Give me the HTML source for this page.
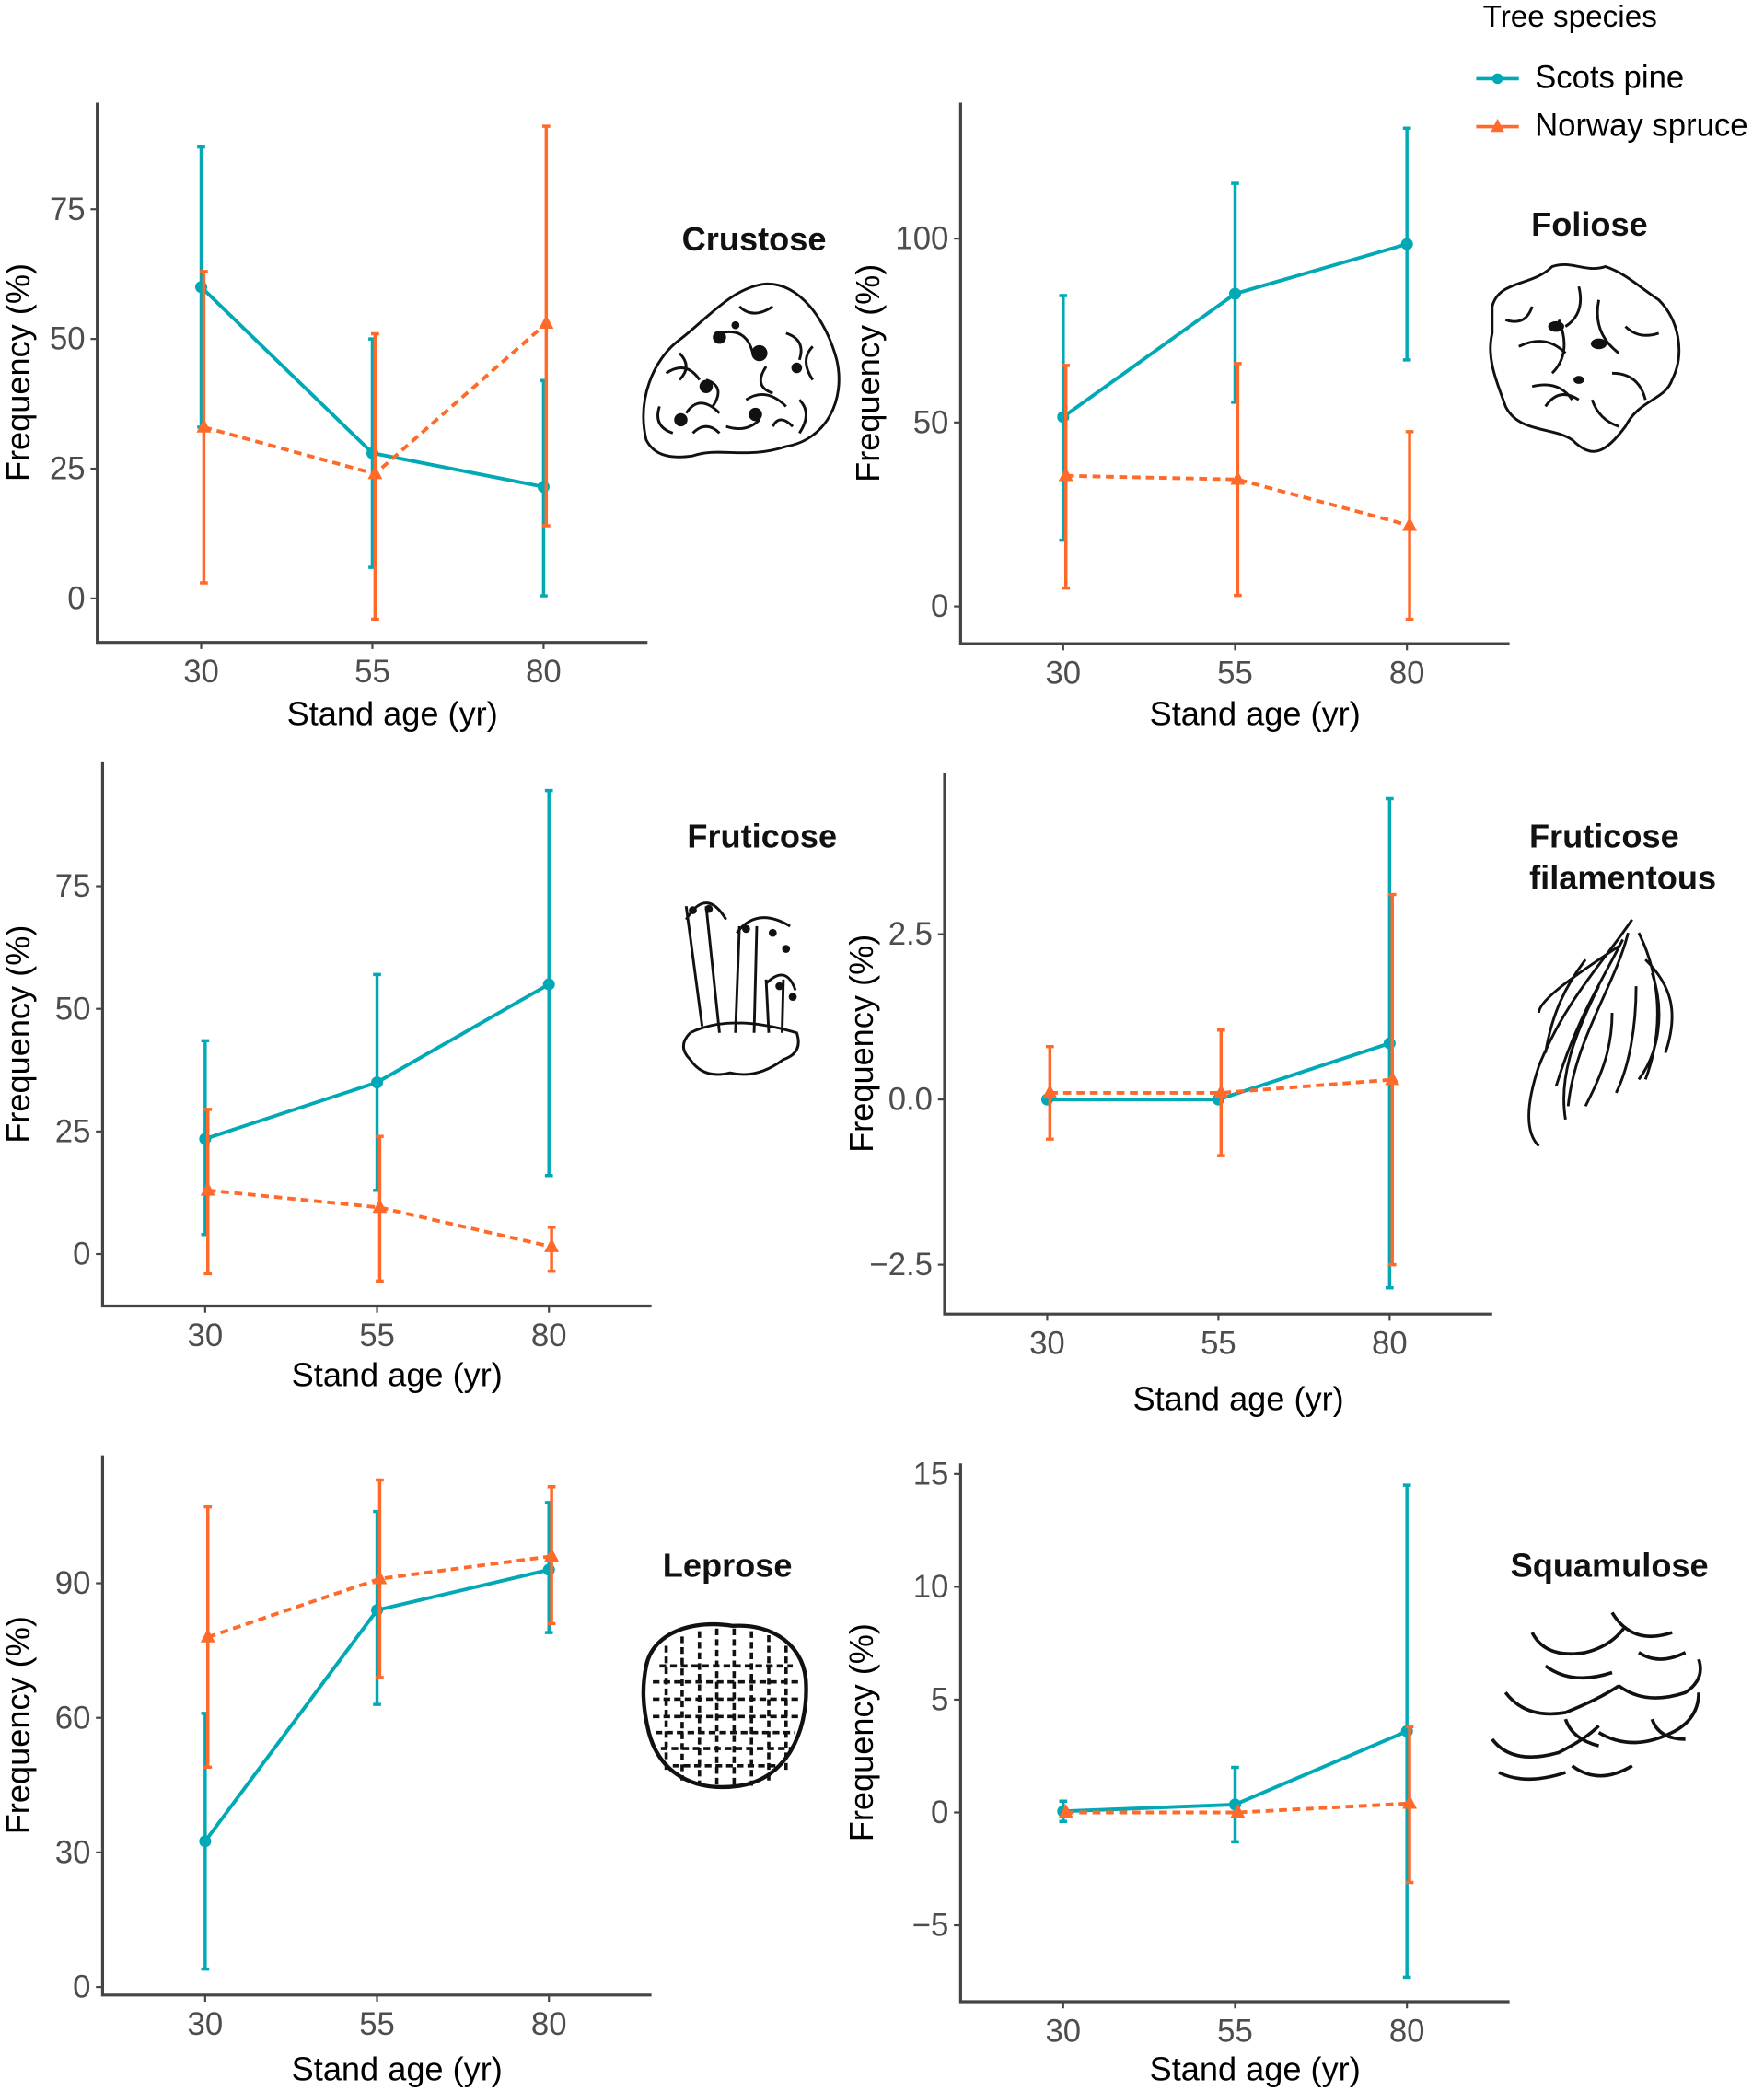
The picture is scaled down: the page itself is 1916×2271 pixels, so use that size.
<!DOCTYPE html>
<html><head><meta charset="utf-8"><style>
html,body{margin:0;padding:0;background:#fff;}
svg{display:block;font-family:"Liberation Sans",Arial,sans-serif;}
</style></head><body>
<svg id="fig" width="1916" height="2271" viewBox="0 0 1324 1569" preserveAspectRatio="none" xmlns="http://www.w3.org/2000/svg">
<g>
<text x="1113" y="20" font-size="23" fill="#000">Tree species</text>
<g>
<line x1="1108" y1="59" x2="1140" y2="59" stroke="#00A9B5" stroke-width="2.5"/><circle cx="1124" cy="59" r="4" fill="#00A9B5"/>
<text x="1152" y="66" font-size="24">Scots pine</text></g>
<g>
<line x1="1108" y1="95" x2="1140" y2="95" stroke="#FF6A2A" stroke-width="2.5"/><path d="M1119,99 L1124,89 L1129,99Z" fill="#FF6A2A"/>
<text x="1152" y="102" font-size="24">Norway spruce</text></g>
</g>
<g fill="none" stroke="#111" stroke-width="2">
<g><path d="M485,330 C478,300 490,270 510,255 C530,240 550,215 575,213 C600,212 620,240 628,270 C635,300 620,330 590,335 C560,345 540,335 520,342 C500,345 490,340 485,330Z"/>
<path d="M500,280 q15,-10 25,5 M540,250 q20,-5 25,15 M515,310 q10,-15 25,0 M560,300 q15,-10 30,5 M590,250 q15,5 10,20 M600,300 q10,10 0,25 M530,285 q15,5 5,20 M575,275 q-10,15 5,20 M495,305 q-5,15 10,20 M510,265 q10,10 0,20 M555,230 q10,10 25,0 M545,320 q15,5 25,-5 M610,260 q-10,10 0,25 M520,325 q10,-10 20,0 M580,320 q5,-10 15,0"/>
<g fill="#111" stroke="none"><circle cx="540" cy="253" r="5"/><circle cx="570" cy="265" r="6"/><circle cx="598" cy="276" r="4"/><circle cx="530" cy="290" r="5"/><circle cx="567" cy="311" r="5"/><circle cx="511" cy="315" r="5"/><circle cx="552" cy="244" r="3"/></g></g>
<g><path d="M1120,230 C1125,210 1150,215 1165,200 C1180,195 1190,205 1205,200 C1220,205 1230,215 1245,225 C1260,240 1265,265 1255,285 C1250,300 1230,300 1220,320 C1205,340 1195,345 1180,330 C1165,320 1140,325 1130,305 C1125,290 1115,270 1120,250Z"/>
<path d="M1140,260 q20,-10 35,5 M1170,240 q10,25 -5,40 M1200,225 q-5,25 15,40 M1150,290 q20,-5 30,10 M1210,280 q20,0 25,20 M1130,240 q15,5 20,-10 M1185,215 q5,20 -10,30 M1220,245 q10,10 25,5 M1160,305 q10,-15 25,-5 M1195,300 q5,15 20,20"/>
<g fill="#111" stroke="none"><ellipse cx="1168" cy="245" rx="6" ry="4"/><ellipse cx="1200" cy="258" rx="6" ry="4"/><ellipse cx="1185" cy="285" rx="4" ry="3"/></g></g>
<g><path d="M515,680 l12,90 M530,680 l10,95 M555,695 l-3,80 M568,695 l-2,80 M575,735 l2,40 M588,735 l-1,40 M515,690 q15,-25 30,0 M553,700 q15,-20 40,-5 M575,738 q15,-15 22,5 M518,775 q30,-15 80,0 q5,15 -10,20 q-20,15 -40,10 q-20,5 -30,-10 q-10,-10 0,-20"/>
<g fill="#111" stroke="none"><circle cx="520" cy="683" r="3"/><circle cx="532" cy="682" r="3"/><circle cx="560" cy="697" r="3"/><circle cx="580" cy="700" r="3"/><circle cx="590" cy="712" r="3"/><circle cx="585" cy="740" r="3"/><circle cx="595" cy="748" r="3"/></g></g>
<g><path d="M1225,690 c-20,30 -50,60 -70,110 c-10,30 -10,50 0,60 M1222,700 c-10,40 -40,80 -45,130 M1230,700 c15,30 20,70 5,110 M1215,710 c-30,20 -60,40 -60,50 M1235,720 c20,20 25,40 15,70 M1200,740 c-20,40 -30,70 -25,100 M1210,760 c0,30 -10,50 -20,70 M1218,705 c-15,30 -35,60 -50,110 M1240,730 c10,30 5,60 -10,80 M1190,720 c-15,20 -25,40 -30,70 M1228,740 c0,30 -5,60 -15,80"/></g>
<g stroke-width="3"><path d="M485,1250 C490,1225 520,1215 550,1220 C580,1218 605,1235 605,1265 C606,1300 590,1335 555,1340 C520,1345 495,1330 487,1300 C482,1280 482,1265 485,1250Z"/>
<path d="M495,1250 h100 M490,1262 h112 M490,1275 h112 M490,1288 h112 M492,1300 h105 M496,1312 h98 M505,1325 h80 M500,1235 v95 M512,1228 v108 M525,1224 v115 M538,1222 v118 M551,1222 v118 M564,1224 v116 M577,1227 v110 M590,1235 v95" stroke-width="2.5" stroke-dasharray="5,3"/></g>
<g stroke-width="2.5"><path d="M1150,1225 q10,20 40,15 q20,-5 30,-20 M1210,1210 q15,25 45,15 M1130,1270 q15,20 45,15 q25,-10 40,-20 M1215,1265 q20,15 50,5 q15,-10 10,-25 M1120,1305 q15,20 50,10 q20,-10 30,-20 M1200,1300 q25,15 55,0 q20,-10 20,-30 M1125,1330 q20,10 50,0 M1180,1325 q20,15 45,0 M1160,1250 q20,15 50,5 M1230,1240 q15,10 35,0 M1175,1290 q5,15 25,20 M1240,1290 q5,15 25,15"/></g>
</g>
<g id="panels"></g>
</svg>
<script>
// categories
const ages = [30, 55, 80];
// Crustose
const crustScots = [60, 28, 21.5];
const crustScotsLo = [33, 6, 0.5];
const crustScotsHi = [87, 50, 42];
const crustSpruce = [33, 24, 53];
const crustSpruceLo = [3, -4, 14];
const crustSpruceHi = [63, 51, 91];
const crustTicks = [0, 25, 50, 75];
// Foliose
const folScots = [51.5, 85, 98.5];
const folScotsLo = [18, 55.5, 67];
const folScotsHi = [84.5, 115, 130];
const folSpruce = [35.5, 34.5, 22];
const folSpruceLo = [5, 3, -3.5];
const folSpruceHi = [65.5, 66, 47.5];
const folTicks = [0, 50, 100];
// Fruticose
const fruScots = [23.5, 35, 55];
const fruScotsLo = [4, 13, 16];
const fruScotsHi = [43.5, 57, 94.5];
const fruSpruce = [13, 9.5, 1.5];
const fruSpruceLo = [-4, -5.5, -3.5];
const fruSpruceHi = [29.5, 24, 5.5];
const fruTicks = [0, 25, 50, 75];
// Fruticose filamentous
const filScots = [0, 0, 0.85];
const filScotsLo = [0, 0, -2.85];
const filScotsHi = [0, 0, 4.55];
const filSpruce = [0.1, 0.1, 0.3];
const filSpruceLo = [-0.6, -0.85, -2.5];
const filSpruceHi = [0.8, 1.05, 3.1];
const filTicks = [-2.5, 0, 2.5];
const filTickLabels = ["\u22122.5", "0.0", "2.5"];
// Leprose
const lepScots = [32.5, 84, 93];
const lepScotsLo = [4, 63, 79];
const lepScotsHi = [61, 106, 108];
const lepSpruce = [78, 91, 96];
const lepSpruceLo = [49, 69, 81];
const lepSpruceHi = [107, 113, 111.5];
const lepTicks = [0, 30, 60, 90];
// Squamulose
const squScots = [0.05, 0.35, 3.6];
const squScotsLo = [-0.4, -1.3, -7.3];
const squScotsHi = [0.5, 2.0, 14.5];
const squSpruce = [0, 0, 0.4];
const squSpruceLo = [0, 0, -3.1];
const squSpruceHi = [0, 0, 3.8];
const squTicks = [-5, 0, 5, 10, 15];
const squTickLabels = ["\u22125", "0", "5", "10", "15"];

const NS = "http://www.w3.org/2000/svg";
const TEAL = "#00A9B5", ORANGE = "#FF6A2A";
function mk(tag, attrs, parent) {
  const e = document.createElementNS(NS, tag);
  for (const k in attrs) e.setAttribute(k, attrs[k]);
  parent.appendChild(e); return e;
}
const panelsEl = document.getElementById('panels');
const layout = [
  {name:'crustose', title:['Crustose'], tx:566, ty:188, ax:73, ylx:22, top:77, bot:482, xr:486, v0:0, p0:449, v1:75, p1:157, x30:151, x80:408, xlab:544, ticks:crustTicks, s:[crustScots,crustScotsLo,crustScotsHi], o:[crustSpruce,crustSpruceLo,crustSpruceHi]},
  {name:'foliose', title:['Foliose'], tx:1193, ty:177, ax:721, ylx:660, top:77, bot:483, xr:1133, v0:0, p0:455, v1:100, p1:179, x30:798, x80:1056, xlab:544, ticks:folTicks, s:[folScots,folScotsLo,folScotsHi], o:[folSpruce,folSpruceLo,folSpruceHi]},
  {name:'fruticose', title:['Fruticose'], tx:572, ty:636, ax:77, ylx:22, top:572, bot:980, xr:489, v0:0, p0:941, v1:75, p1:665, x30:154, x80:412, xlab:1040, ticks:fruTicks, s:[fruScots,fruScotsLo,fruScotsHi], o:[fruSpruce,fruSpruceLo,fruSpruceHi]},
  {name:'fruticose-filamentous', title:['Fruticose','filamentous'], tx:1204, ty:636, tx2:1218, ax:709, ylx:655, top:580, bot:986, xr:1120, v0:0, p0:825, v1:2.5, p1:701, x30:786, x80:1043, xlab:1058, ticks:filTicks, labels:filTickLabels, s:[filScots,filScotsLo,filScotsHi], o:[filSpruce,filSpruceLo,filSpruceHi]},
  {name:'leprose', title:['Leprose'], tx:546, ty:1183, ax:77, ylx:22, top:1092, bot:1497, xr:489, v0:0, p0:1491, v1:90, p1:1188, x30:154, x80:412, xlab:1561, ticks:lepTicks, s:[lepScots,lepScotsLo,lepScotsHi], o:[lepSpruce,lepSpruceLo,lepSpruceHi]},
  {name:'squamulose', title:['Squamulose'], tx:1208, ty:1183, ax:721, ylx:655, top:1098, bot:1502, xr:1133, v0:0, p0:1360, v1:15, p1:1106, x30:798, x80:1056, xlab:1561, ticks:squTicks, labels:squTickLabels, s:[squScots,squScotsLo,squScotsHi], o:[squSpruce,squSpruceLo,squSpruceHi]}
];
layout.forEach(P => {
  const g = mk('g', {}, panelsEl);
  
  
  const yS = v => P.p0 + (v - P.v0) * (P.p1 - P.p0) / (P.v1 - P.v0);
  const xS = a => P.x30 + (a - 30) * (P.x80 - P.x30) / 50;
  const axes = mk('path', {d:`M${P.ax},${P.top} V${P.bot} H${P.xr}`, fill:'none', stroke:'#444', 'stroke-width':2.2}, g);
  
  
  P.ticks.forEach((t, i) => {
    const y = yS(t);
    mk('line', {x1:P.ax-5, x2:P.ax, y1:y, y2:y, stroke:'#444', 'stroke-width':1.5}, g);
    const tl = mk('text', {x:P.ax-9, y:y+8, 'text-anchor':'end', 'font-size':24, fill:'#4d4d4d'}, g);
    tl.textContent = P.labels ? P.labels[i] : String(t);
    
    
  });
  ages.forEach(a => {
    const x = xS(a);
    mk('line', {x1:x, x2:x, y1:P.bot, y2:P.bot+5, stroke:'#444', 'stroke-width':1.5}, g);
    const tl = mk('text', {x:x, y:P.bot+30, 'text-anchor':'middle', 'font-size':24, fill:'#4d4d4d'}, g);
    tl.textContent = String(a);
    
    
  });
  const xt = mk('text', {x:(P.ax+P.xr)/2 + 15, y:P.xlab, 'text-anchor':'middle', 'font-size':25, fill:'#000'}, g);
  xt.textContent = 'Stand age (yr)';
  
  
  const ym = (P.top + P.bot) / 2;
  const yt = mk('text', {x:0, y:0, transform:`translate(${P.ylx},${ym}) rotate(-90)`, 'text-anchor':'middle', 'font-size':25, fill:'#000'}, g);
  yt.textContent = 'Frequency (%)';
  
  
  P.title.forEach((t, i) => {
    const tt = mk('text', {x:(i && P.tx2) ? P.tx2 : P.tx, y:P.ty + i*31, 'text-anchor':'middle', 'font-size':25, 'font-weight':'bold', fill:'#111'}, g);
    tt.textContent = t;
    
    
  });
  [[P.s, TEAL, 0, 'scots-pine'], [P.o, ORANGE, 2, 'norway-spruce']].forEach(([ser, col, off, nm]) => {
    const [m, lo, hi] = ser;
    const sg = mk('g', {}, g);
    
    
    ages.forEach((a, i) => {
      const x = xS(a) + off;
      if (hi[i] !== lo[i]) {
        const eb = mk('path', {d:`M${x},${yS(lo[i])} V${yS(hi[i])} M${x-3},${yS(lo[i])} h6 M${x-3},${yS(hi[i])} h6`, stroke:col, 'stroke-width':2.4, fill:'none'}, sg);
        
        
      }
    });
    const pts = ages.map((a, i) => `${xS(a)+off},${yS(m[i])}`).join(' ');
    const ln = mk('polyline', {points:pts, fill:'none', stroke:col, 'stroke-width':2.7}, sg);
    if (off) ln.setAttribute('stroke-dasharray', '6,4');
    
    
    ages.forEach((a, i) => {
      const x = xS(a) + off, y = yS(m[i]);
      let mark;
      if (!off) mark = mk('circle', {cx:x, cy:y, r:4.5, fill:col}, sg);
      else mark = mk('path', {d:`M${x-5.5},${y+4} L${x},${y-6.5} L${x+5.5},${y+4}Z`, fill:col}, sg);
      
      
    });
  });
});
</script>
</body></html>
